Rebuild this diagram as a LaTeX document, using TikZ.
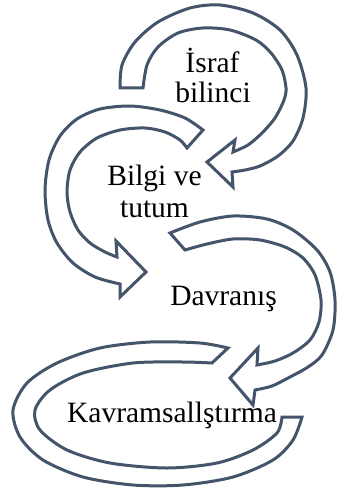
\documentclass[tikz,border=0pt]{standalone}
\usepackage{fontspec}
\setmainfont{Liberation Serif}
\definecolor{slate}{HTML}{44546A}
\begin{document}
\begin{tikzpicture}[x=1pt,y=-1pt,
  arrowshape/.style={draw=slate, fill=white, line width=3pt, line join=miter},
  lbl/.style={anchor=base, inner sep=0pt, font=\fontsize{29.5}{32}\selectfont, text=black}]
\useasboundingbox (0,0) rectangle (337,497);

% Arrow 1 (Israf bilinci)
\draw[arrowshape] (143,88) -- (120,88)
  -- plot[smooth] coordinates {(120,88) (122,65) (135,42) (158,22) (190,8) (220,5) (253,13) (280,30) (297,55) (306,88) (303,118) (293,141) (278,156) (260,166) (245,170) (232,172)}
  -- (233,187) -- (207,162) -- (235,140) -- (233,152)
  -- plot[smooth] coordinates {(233,152) (248,145) (262,133) (275,118) (284,100) (286,88) (282,70) (271,53) (256,40) (230,30) (203,28) (178,33) (158,47) (147,65) (143,88)}
  -- cycle;

% Arrow 2 (Bilgi ve tutum)
\draw[arrowshape] (187,148) -- (203,130)
  -- plot[smooth] coordinates {(203,130) (185,118) (160,110) (130,106) (100,109) (77,119) (60,136) (49,160) (45,190) (48,220) (57,243) (73,263) (95,277) (120,284)}
  -- (120,297) -- (146,272) -- (116,241) -- (117,257)
  -- plot[smooth] coordinates {(117,257) (105,252) (90,243) (78,230) (70,212) (67,192) (70,170) (80,152) (97,138) (120,130) (145,128) (165,132) (180,140) (187,148)}
  -- cycle;

% Arrow 3 (Davranis)
\draw[arrowshape] (185,250) -- (170,233)
  -- plot[smooth] coordinates {(170,233) (200,222) (233,216) (267,219) (293,230) (317,250) (330,272) (335,300) (333,330) (322,355) (308,367) (290,377) (272,386) (255,390)}
  -- (253,405) -- (230,378) -- (258,348) -- (257,365)
  -- plot[smooth] coordinates {(257,365) (275,361) (293,353) (310,340) (319,322) (321,300) (315,275) (303,258) (285,247) (260,240) (233,239) (207,244) (185,250)}
  -- cycle;

% Arrow 4 (Kavramsallastirma)
\draw[arrowshape] (212,363) -- (228,348)
  -- plot[smooth] coordinates {(228,348) (200,343) (150,342) (100,348) (57,363) (27,383) (13,410) (20,437) (43,460) (83,477) (133,485) (183,485) (233,477) (273,460) (293,440) (302,417)}
  -- (282,417)
  -- plot[smooth] coordinates {(282,417) (277,433) (253,450) (217,463) (167,468) (110,463) (67,450) (40,430) (35,410) (50,390) (83,373) (133,363) (183,362) (212,363)}
  -- cycle;

\node[lbl] (t1a) at (212.5,73) {İsraf};
\node[lbl] (t1b) at (213,103) {bilinci};
\node[lbl] (t2a) at (154.5,185) {Bilgi ve};
\node[lbl] (t2b) at (154.5,217) {tutum};
\node[lbl] (t3) at (223.5,305) {Davranış};
\node[lbl] (t4) at (172,422) {Kavramsallştırma};
\end{tikzpicture}
\end{document}
